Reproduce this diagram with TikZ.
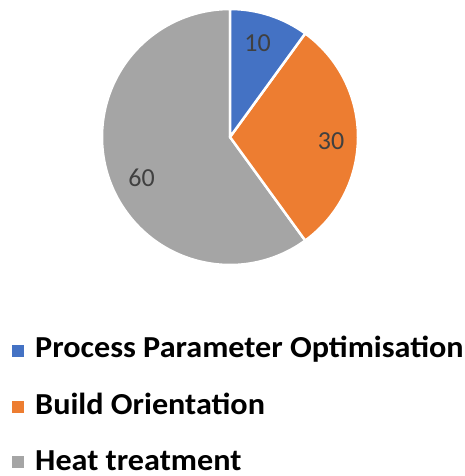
\documentclass[tikz,border=0pt]{standalone}
\usepackage{fontspec}
\setmainfont{Carlito}
\definecolor{pblue}{HTML}{4472C4}
\definecolor{porange}{HTML}{ED7D31}
\definecolor{pgray}{HTML}{A5A5A5}
\definecolor{lbl}{HTML}{404040}
\newcommand{\legstretch}[1]{\scalebox{1.055}[1]{#1}}
\begin{document}
\begin{tikzpicture}[x=1pt,y=1pt,
  slice/.style={draw=white,line width=2.5pt,line join=round},
  val/.style={text=lbl,font=\fontsize{26}{30}\selectfont,inner sep=0pt},
  legsq/.style={minimum width=12pt,minimum height=12pt,inner sep=0pt},
  legtxt/.style={anchor=base west,font=\fontsize{30.5}{34}\selectfont\bfseries,inner sep=0pt,text depth=0pt}]
\useasboundingbox[fill=white] (0,0) rectangle (464,476);
\coordinate (c) at (230,339);
\def\R{128}
\filldraw[slice,fill=pgray] (c) -- ++(-54:\R) arc[start angle=-54,end angle=-270,radius=\R] -- cycle;
\filldraw[slice,fill=porange] (c) -- ++(54:\R) arc[start angle=54,end angle=-54,radius=\R] -- cycle;
\filldraw[slice,fill=pblue] (c) -- ++(90:\R) arc[start angle=90,end angle=54,radius=\R] -- cycle;
\node[val] (v10) at (257.5,432.5) {10};
\node[val] (v30) at (331,335) {30};
\node[val] (v60) at (141.5,298) {60};
\node[legsq,fill=pblue] (s1) at (18,125) {};
\node[legsq,fill=porange] (s2) at (18,69) {};
\node[legsq,fill=pgray] (s3) at (18,14) {};
\node[legtxt] (t1) at (35,118) {\legstretch{Process Parameter Optimisation}};
\node[legtxt] (t2) at (35,61) {\legstretch{Build Orientation}};
\node[legtxt] (t3) at (35,5.5) {\legstretch{Heat treatment}};
\end{tikzpicture}
\end{document}
